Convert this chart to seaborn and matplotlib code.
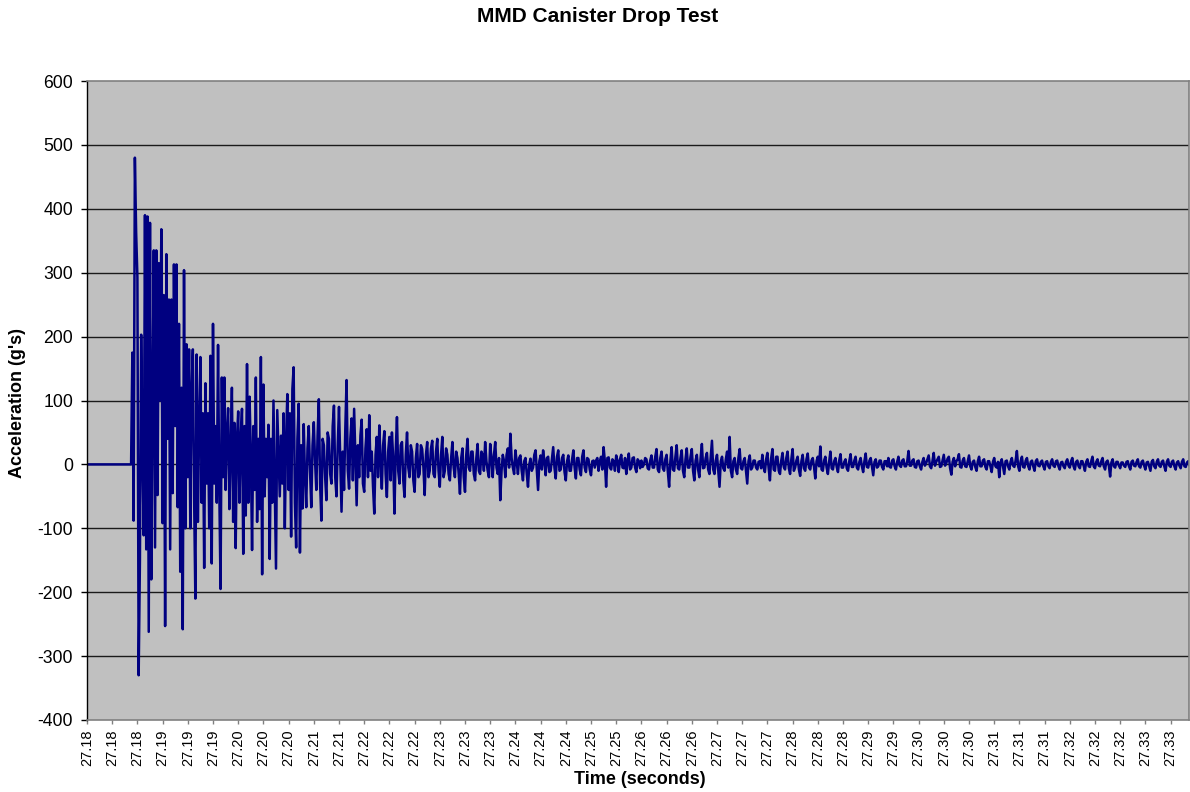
import numpy as np
import pandas as pd
import matplotlib
matplotlib.use("Agg")
import matplotlib.pyplot as plt
import seaborn as sns

# ---------------- data ----------------
title = "MMD Canister Drop Test"
x_title = "Time (seconds)"
y_title = "Acceleration (g's)"

# category tick labels (one every 20 samples)
tick_labels = ["27.18", "27.18", "27.18", "27.19", "27.19", "27.19", "27.20", "27.20",
               "27.20", "27.21", "27.21", "27.22", "27.22", "27.22", "27.23", "27.23",
               "27.23", "27.24", "27.24", "27.24", "27.25", "27.25", "27.26", "27.26",
               "27.26", "27.27", "27.27", "27.27", "27.28", "27.28", "27.28", "27.29",
               "27.29", "27.30", "27.30", "27.30", "27.31", "27.31", "27.31", "27.32",
               "27.32", "27.32", "27.33", "27.33"]
samples_per_label = 20

# acceleration (g's), in order of samples
accel_before = [0] * 36
accel_impact = [175, -88, 480, 363, 293, -330, -150, 203, 20, -111, 390, -133, 388, -262,
                378, -180, 90, 335, -130, 335, -48, 315, 100, 368, -92, 265, -253, 329,
                40, 258, -133, 258, -45, 313, 60, 313, -67, 220, -168, 120, -258, 304,
                -100, 188, -20, 180, -100, 117, 180, -50, -210, 172, -90, 60, 168, -60,
                80, -162, 127, -30, 80, -100, 170, -155, 220, -30, 60, -60, 187, -40,
                -195, 136, -20, 136, -40, 50, 88, -70, 20, 120, -90, 65, -131, 40, 83,
                -60, 40, 87, -140, 60, -80, 157, -60, 106, 20, -134, 60, -40, 136, -90,
                40, -70, 168, -172, 125, -50, 40, -20, 62, -148, 40, -60, 100, -30, -163,
                85, 20, -50, 45, -30, 80, -100, 40, 110, -40, 80, -113, 118, 152, -60,
                -130, 40, 95, -138, 30, -69]
accel_decay = [63, -20, -67, 25, 60, -10, -67, 30, 66, 5, -40, 45, 102, -30, -88, 40, 30,
               -20, -56, 50, 40, -15, -30, 60, 92, -20, -50, 30, 90, 10, -74, 20, -40, 55,
               132, -10, -38, 40, 72, -25, 87, 10, -64, 30, -20, 45, 70, -30, -43, 25, 55,
               -20, 77, -10, 20, -35, -77, 15, 43, -20, 61, 5, -38, 30, 52, -15, -51, 20,
               43, -25, 50, 10, -77, 20, 74, -10, -30, 30, 35, -25, -51, 15, 50, -5, -20,
               30, 20, -25, -43, 10, 32, -20, -15, 30, 24, -5, -48, 15, 35, -20, -10, 25,
               37, -15, -20, 20, 40, -10, -35, 15, 43, -20, -10, 25, 15, -15, -25, 10, 35,
               -5, -20, 20, 10, -15, -46, 10, 25, -20, -43, 15, 40, -5, -10, 20, 20, -15,
               -25, 10, 32, -10, -15, 20, 15, -10, 35, 5, -10, -20, 32, 10, -20, 15, 35,
               -5, -15, 10, -56, -10, 15, 5, -20, 15, 25, -5, 48, 10, -5, -15, 22, 5, -15,
               10, 14, -10, -25, 5, 10, -15, -35, 0, 9, -10, -5, 15, 22, -10, -40, 5, 14,
               -8, 22, 5, -17, 10, 12, -12, -10, 8, 27, -5, -22, 12, 22, -10, -8, 10, 15,
               -12, -25, 5, 14, -10, -10, 8, 22, -5, -22, 10, 10, -8, -17, 12, 22, -5,
               -12, 10, 8, -8, -17, 5, 6, -5, 6, 10, -10, 5, 12, -8, 27, 5, -35, 10, 11,
               -5, -8, 8, 5, -10, 14, 5, -12, 8, 15, -5, -6, 10, -15, 5, 17, -8, -5, 10,
               11, -5, -12, 8, 5, -6, 6, -4, 0, 10, 8, -6, -8, 6, 14, -5, -5, 12, 24, -8,
               -12, 10, 20, -6, -10, 8, 15, -12, -35, 5, 27, -8, -10, 12, 30, -6, -8, 10,
               22, -10, -20, 8, 25, -5, -5, 12, 24, -10, -25, 6, 15, -8, -20, 10, 32, -6,
               -5, 10, 18, -8, -15, 10, 37, -8, -15, 6, 15, -10, -35, 5, 12, -6, -10, 8,
               20, -5, 43, -10, -20, 5, 10, -8, -15, 10, 24, -6, -8, 5, 10, -10, -30, 5,
               14, -8, -5, 6, 6, -5, -8, 4, 5, -6]
accel_tail = [15, -5, -12, 8, 18, -6, -25, 10, 24, -8, -10, 12, 12, -10, -15, 6, 18, -4,
              -8, 10, 20, -6, -15, 8, 24, -10, -5, 6, 12, -8, -18, 5, 15, -6, -10, 8, 17,
              -5, -8, 6, 10, -4, -22, 5, 12, -3, 28, -8, -10, 6, 12, -5, -15, 4, 20, -6,
              -8, 5, 10, -4, -12, 6, 16, -5, -5, 4, 8, -6, -10, 5, 16, -4, -4, 6, 12, -5,
              -8, 4, 10, -3, -12, 5, 17, -4, -5, 6, 10, -3, -17, 4, 8, -5, -3, 6, 6, -4,
              -8, 5, 5, -3, 10, -4, -5, 6, 8, -3, -8, 4, 12, -2, -4, 6, 8, -3, -3, 5, 21,
              -2, -2, 6, 8, -4, -5, 5, 6, -3, -8, 4, 10, -2, 2, 8, 14, -3, -6, 5, 18, -2,
              4, 8, 12, -4, -3, 6, 15, -2, 2, 9, 12, -6, -16, 4, 10, -3, 5, 8, 16, -4, -5,
              6, 10, -3, -4, 5, 14, -3, -8, 4, 6, -4, -10, 5, 12, -3, -3, 6, 8, -4, -8, 5,
              5, -3, -12, 4, 10, -3, -5, 4, -20, 3, 8, -4, -15, 5, 6, -3, -8, 4, 10, -2,
              -4, 6, 21, -3, -10, 5, 12, -4, -5, 6, 10, -3, -8, 4, 6, -3, -10, 5, 8, -2,
              -3, 4, 6, -3, -8, 4, 5, -3, -6, 4, 8, -2, -4, 5, 6, -3, -8, 3, 4, -3, -6, 4,
              8, -2, -5, 5, 10, -3, -8, 4, 6, -3, -6, 5, 5, -2, -10, 4, 8, -3, -4, 5, 12,
              -3, -6, 4, 8, -2, -3, 5, 10, -3, -8, 4, 6, -2, -19, 3, 8, -3, -5, 4, 4, -2,
              -6, 3, 3, -2, -4, 4, 5, -3, -8, 4, 6, -2, -3, 4, 8, -3, -5, 4, 6, -2, -8, 3,
              4, -3, -10, 4, 7, -3, -6, 4, 8, -2, -4, 4, 6, -3, -10, 4, 8, -2, -4, 4, 6,
              -3, -8, 3, 5, -2, -6, 4, 8, -3, -4, 3, 5, -2]

accel = accel_before + accel_impact + accel_decay + accel_tail
df = pd.DataFrame({"sample": np.arange(len(accel)), "accel": accel})

# ---------------- style ----------------
sns.set_style("white", {"axes.facecolor": "#C0C0C0"})
plt.rcParams["font.family"] = ["Liberation Sans", "DejaVu Sans"]
plt.rcParams["axes.unicode_minus"] = False
plt.rcParams["text.color"] = "black"
plt.rcParams["xtick.color"] = "black"
plt.rcParams["ytick.color"] = "black"

W, H = 1190, 792
fig = plt.figure(figsize=(W / 100, H / 100), dpi=100)
left, right, top, bottom = 87, 1189, 81, 720
ax = fig.add_axes([left / W, 1 - bottom / H, (right - left) / W, (bottom - top) / H])
ax.set_facecolor("#C0C0C0")

sns.lineplot(data=df, x="sample", y="accel", ax=ax, color="#000080",
             linewidth=1.8, estimator=None, sort=False)

ax.set_ylim(-400, 600)
ax.set_yticks(np.arange(-400, 601, 100))
ax.set_xlim(0, (right - left) / 1.26)
ticks = np.arange(len(tick_labels)) * samples_per_label
ax.set_xticks(ticks)
ax.set_xticklabels(tick_labels, rotation=90, fontsize=10.5)
ax.tick_params(axis="y", labelsize=12.7, length=4, width=1, color="black",
               labelcolor="black", direction="out", pad=6, left=True)
ax.tick_params(axis="x", length=3, width=1, color="#808080", labelcolor="black",
               direction="out", pad=4, bottom=True)

ax.grid(False)
for yv in range(-300, 600, 100):
    ax.axhline(yv, color="#1a1a1a", linewidth=1.0, zorder=0.5)

for side in ["top", "right", "bottom"]:
    ax.spines[side].set_color("#808080")
    ax.spines[side].set_linewidth(1.2)
ax.spines["left"].set_color("black")
ax.spines["left"].set_linewidth(1.0)

ax.set_xlabel("")
ax.set_ylabel("")
fig.text(598 / W, 1 - 17 / H, title, ha="center", va="center",
         fontsize=15, fontweight="bold", color="black")
fig.text(640 / W, 1 - 780 / H, x_title, ha="center", va="center",
         fontsize=13, fontweight="bold", color="black")
fig.text(18 / W, 1 - 403 / H, y_title, ha="center", va="center",
         fontsize=13, fontweight="bold", rotation=90, color="black")

fig.savefig("out.png", dpi=100, facecolor="white")
